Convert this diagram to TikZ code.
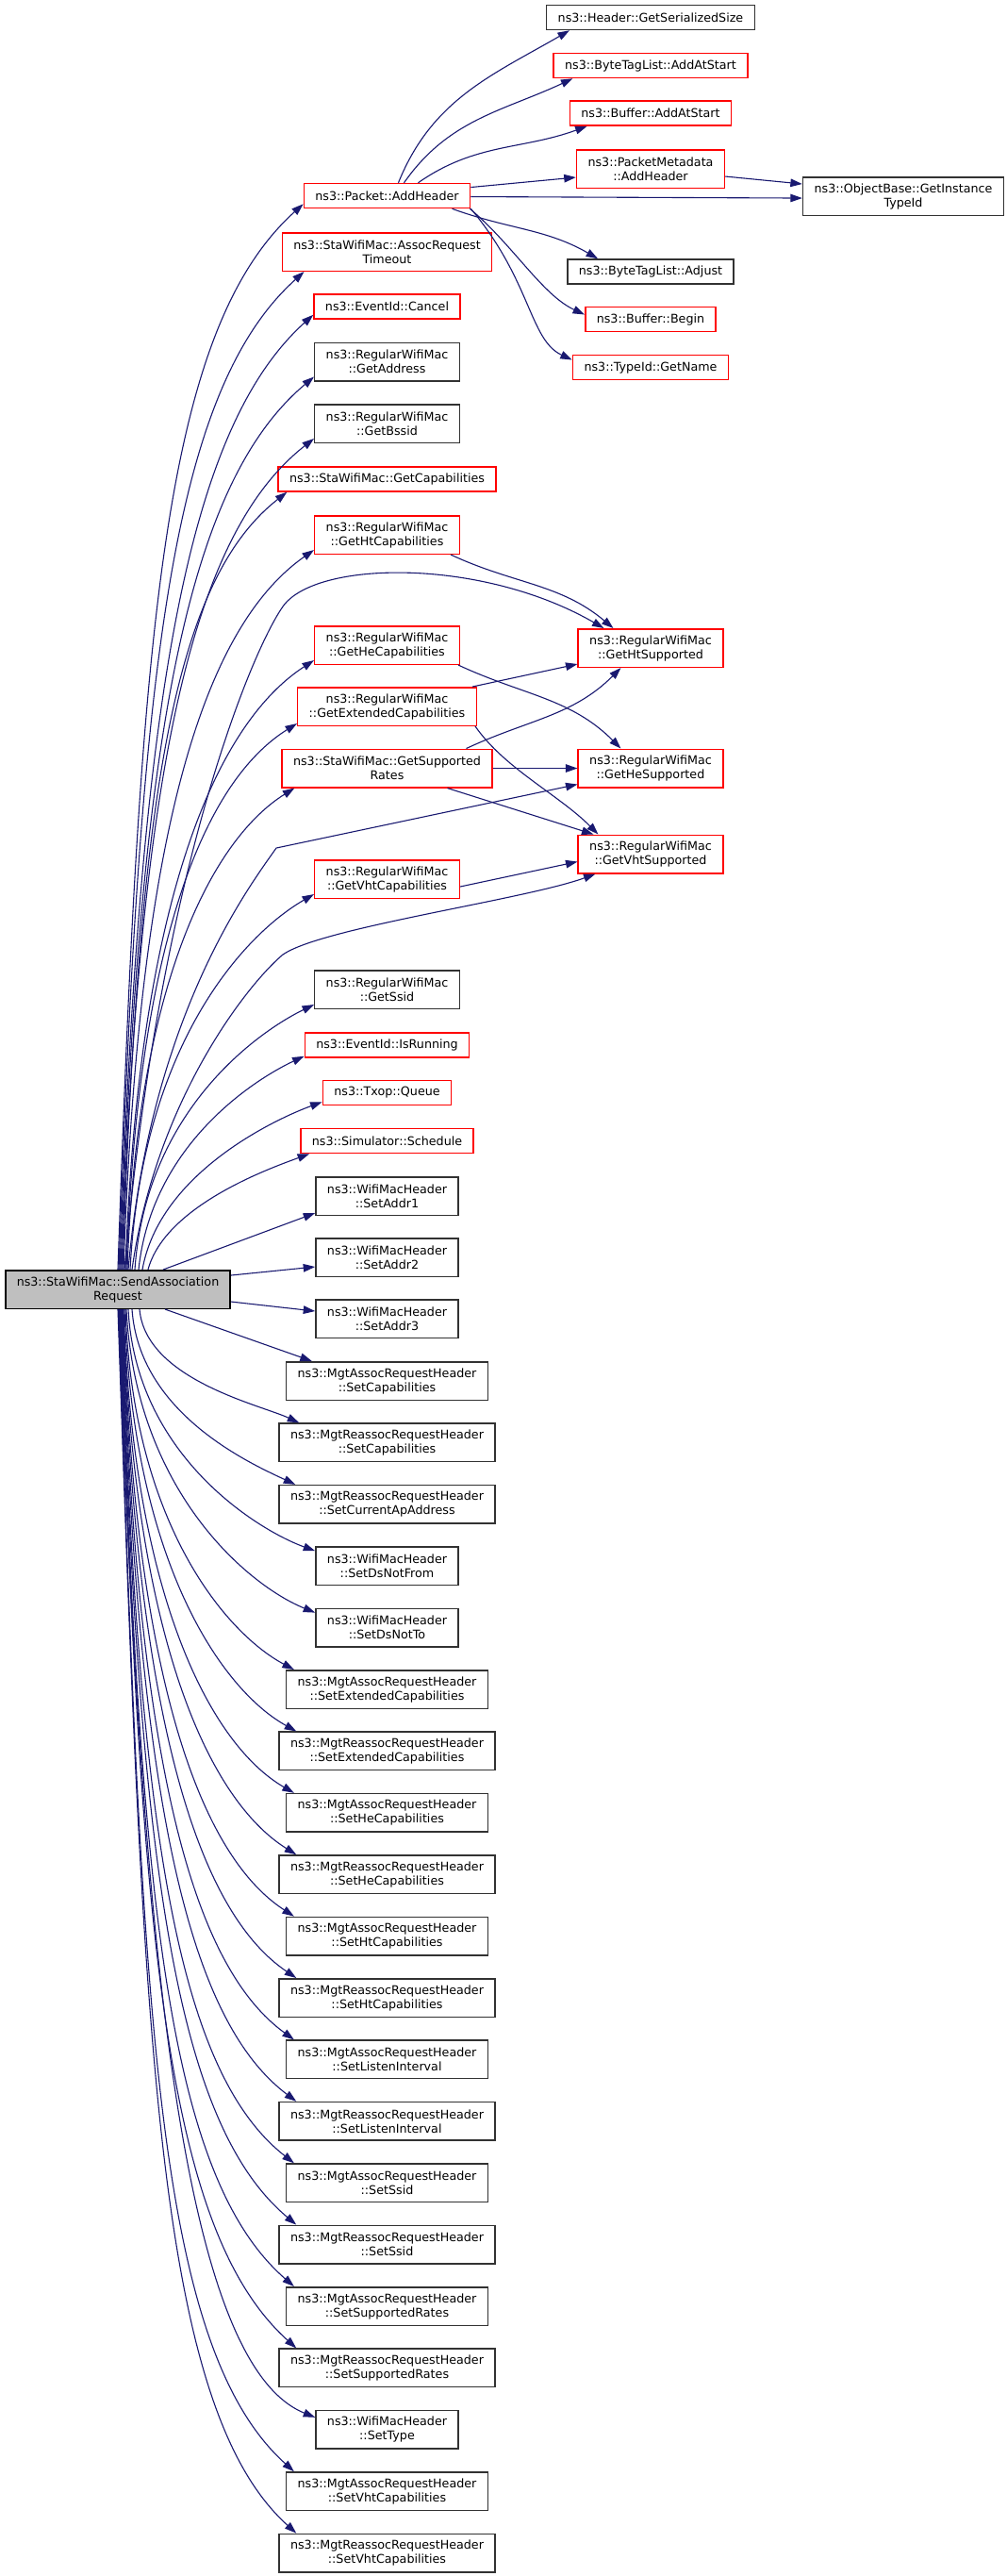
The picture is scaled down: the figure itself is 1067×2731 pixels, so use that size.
\documentclass[tikz,border=0pt]{standalone}
\usepackage{fontspec}
\setmainfont{DejaVu Sans}
\usepackage{tikz}
\usetikzlibrary{arrows.meta,positioning}
\definecolor{doxyblue}{RGB}{25,25,112}
\definecolor{doxyred}{RGB}{255,0,0}
\definecolor{doxygray}{RGB}{50,50,50}
\definecolor{doxyfill}{RGB}{191,191,191}

\begin{document}
\begin{tikzpicture}[x=0.1pt,y=0.1pt,
    fn/.style={draw=doxygray, line width=0.15pt, fill=white, align=center,
      inner xsep=1.2pt, inner ysep=0.2pt, minimum height=2.6pt,
      font=\fontsize{1.27}{1.5}\selectfont},
    fnred/.style={fn, draw=doxyred},
    twoline/.style={minimum height=4.05pt},
    call/.style={draw=doxyblue, line width=0.11pt, -{Triangle[length=1.25pt,width=0.85pt]}}]
  \useasboundingbox (0,0) rectangle (1067,-2731);

  % Nodo principale
  \node[fn, twoline, draw=black, fill=doxyfill] (send) at (125,-1367) {ns3::StaWifiMac::SendAssociation\\Request};

  % Colonna centrale
  \node[fnred] (addhdr) at (410.5,-207.5) {ns3::Packet::AddHeader};
  \node[fnred, twoline] (assocto) at (410.5,-267) {ns3::StaWifiMac::AssocRequest\\Timeout};
  \node[fnred] (evcancel) at (410.5,-325) {ns3::EventId::Cancel};
  \node[fn, twoline] (getaddr) at (410.5,-383.5) {ns3::RegularWifiMac\\::GetAddress};
  \node[fn, twoline] (getbssid) at (410.5,-449) {ns3::RegularWifiMac\\::GetBssid};
  \node[fnred] (getcaps) at (410.5,-508) {ns3::StaWifiMac::GetCapabilities};
  \node[fnred, twoline] (gethtcaps) at (410.5,-567) {ns3::RegularWifiMac\\::GetHtCapabilities};
  \node[fnred, twoline] (gethecaps) at (410.5,-684) {ns3::RegularWifiMac\\::GetHeCapabilities};
  \node[fnred, twoline] (getextcaps) at (410.5,-749) {ns3::RegularWifiMac\\::GetExtendedCapabilities};
  \node[fnred, twoline] (getrates) at (410.5,-814.5) {ns3::StaWifiMac::GetSupported\\Rates};
  \node[fnred, twoline] (getvhtcaps) at (410.5,-932) {ns3::RegularWifiMac\\::GetVhtCapabilities};
  \node[fn, twoline] (getssid) at (410.5,-1049) {ns3::RegularWifiMac\\::GetSsid};
  \node[fnred] (isrun) at (410.5,-1108) {ns3::EventId::IsRunning};
  \node[fnred] (txopq) at (410.5,-1158.5) {ns3::Txop::Queue};
  \node[fnred] (sched) at (410.5,-1209.5) {ns3::Simulator::Schedule};
  \node[fn, twoline] (addr1) at (410.5,-1268) {ns3::WifiMacHeader\\::SetAddr1};
  \node[fn, twoline] (addr2) at (410.5,-1333) {ns3::WifiMacHeader\\::SetAddr2};
  \node[fn, twoline] (addr3) at (410.5,-1398) {ns3::WifiMacHeader\\::SetAddr3};
  \node[fn, twoline] (aSetCaps) at (410.5,-1464) {ns3::MgtAssocRequestHeader\\::SetCapabilities};
  \node[fn, twoline] (rSetCaps) at (410.5,-1529.4) {ns3::MgtReassocRequestHeader\\::SetCapabilities};
  \node[fn, twoline] (rSetApAddr) at (410.5,-1594.8) {ns3::MgtReassocRequestHeader\\::SetCurrentApAddress};
  \node[fn, twoline] (dsNotFrom) at (410.5,-1660.2) {ns3::WifiMacHeader\\::SetDsNotFrom};
  \node[fn, twoline] (dsNotTo) at (410.5,-1725.6) {ns3::WifiMacHeader\\::SetDsNotTo};
  \node[fn, twoline] (aSetExt) at (410.5,-1791) {ns3::MgtAssocRequestHeader\\::SetExtendedCapabilities};
  \node[fn, twoline] (rSetExt) at (410.5,-1856.4) {ns3::MgtReassocRequestHeader\\::SetExtendedCapabilities};
  \node[fn, twoline] (aSetHe) at (410.5,-1921.8) {ns3::MgtAssocRequestHeader\\::SetHeCapabilities};
  \node[fn, twoline] (rSetHe) at (410.5,-1987.2) {ns3::MgtReassocRequestHeader\\::SetHeCapabilities};
  \node[fn, twoline] (aSetHt) at (410.5,-2052.6) {ns3::MgtAssocRequestHeader\\::SetHtCapabilities};
  \node[fn, twoline] (rSetHt) at (410.5,-2118) {ns3::MgtReassocRequestHeader\\::SetHtCapabilities};
  \node[fn, twoline] (aSetListen) at (410.5,-2183.4) {ns3::MgtAssocRequestHeader\\::SetListenInterval};
  \node[fn, twoline] (rSetListen) at (410.5,-2248.8) {ns3::MgtReassocRequestHeader\\::SetListenInterval};
  \node[fn, twoline] (aSetSsid) at (410.5,-2314.2) {ns3::MgtAssocRequestHeader\\::SetSsid};
  \node[fn, twoline] (rSetSsid) at (410.5,-2379.6) {ns3::MgtReassocRequestHeader\\::SetSsid};
  \node[fn, twoline] (aSetRates) at (410.5,-2445) {ns3::MgtAssocRequestHeader\\::SetSupportedRates};
  \node[fn, twoline] (rSetRates) at (410.5,-2510.4) {ns3::MgtReassocRequestHeader\\::SetSupportedRates};
  \node[fn, twoline] (setType) at (410.5,-2575.8) {ns3::WifiMacHeader\\::SetType};
  \node[fn, twoline] (aSetVht) at (410.5,-2641.2) {ns3::MgtAssocRequestHeader\\::SetVhtCapabilities};
  \node[fn, twoline] (rSetVht) at (410.5,-2706.6) {ns3::MgtReassocRequestHeader\\::SetVhtCapabilities};

  % Colonna destra
  \node[fn] (hdrsize) at (690,-18.5) {ns3::Header::GetSerializedSize};
  \node[fnred] (btlstart) at (690,-69.5) {ns3::ByteTagList::AddAtStart};
  \node[fnred] (bufstart) at (690,-120) {ns3::Buffer::AddAtStart};
  \node[fnred, twoline] (pmeta) at (690,-179) {ns3::PacketMetadata\\::AddHeader};
  \node[fn] (btladjust) at (690,-288) {ns3::ByteTagList::Adjust};
  \node[fnred] (bufbegin) at (690,-338.5) {ns3::Buffer::Begin};
  \node[fnred] (tidname) at (690,-389.5) {ns3::TypeId::GetName};
  \node[fnred, twoline] (htsup) at (690,-687) {ns3::RegularWifiMac\\::GetHtSupported};
  \node[fnred, twoline] (hesup) at (690,-814.5) {ns3::RegularWifiMac\\::GetHeSupported};
  \node[fnred, twoline] (vhtsup) at (690,-905.5) {ns3::RegularWifiMac\\::GetVhtSupported};
  \node[fn, twoline] (objbase) at (958,-208) {ns3::ObjectBase::GetInstance\\TypeId};

  % Punti di passaggio
  \coordinate (bendht) at (300,-643);
  \coordinate (bendhe) at (293,-899);
  \coordinate (bendvht) at (300,-1012);

  % Chiamate di Packet::AddHeader
  \draw[call] ([xshift=1.2pt]addhdr.north) to[out=68,in=210] ([xshift=2.5pt]hdrsize.south west);
  \draw[call] ([xshift=1.8pt]addhdr.north) to[out=55,in=205] ([xshift=2.1pt]btlstart.south west);
  \draw[call] ([xshift=3.3pt]addhdr.north) to[out=35,in=200] ([xshift=1.9pt]bufstart.south west);
  \draw[call] ([yshift=0.9pt]addhdr.east) -- ([yshift=-0.9pt]pmeta.west);
  \draw[call] ([yshift=-0.8pt]pmeta.east) -- ([yshift=1.3pt]objbase.west);
  \draw[call] ([yshift=-0.1pt]addhdr.east) -- ([yshift=-0.2pt]objbase.west);
  \draw[call] ([xshift=6.9pt]addhdr.south) to[out=-20,in=150] ([xshift=3.3pt]btladjust.north west);
  \draw[call] ([xshift=-0.1pt]addhdr.south east) to[out=-40,in=155,out distance=6pt,in distance=5pt] ([yshift=0.5pt]bufbegin.west);
  \draw[call] (addhdr.south east) to[out=-50,in=155,out distance=10pt,in distance=5pt] ([yshift=0.8pt]tidname.west);

  % Chiamate verso i Get...Supported
  \draw[call] ([xshift=-1pt]gethtcaps.south east) to[out=-25,in=140] ([xshift=3.8pt]htsup.north west);
  \draw[call] ([xshift=-0.2pt]gethecaps.south east) to[out=-25,in=135] ([xshift=4.6pt]hesup.north west);
  \draw[call] ([xshift=-0.5pt]getextcaps.north east) -- ([yshift=0.4pt]htsup.south west);
  \draw[call] ([xshift=-0.2pt]getextcaps.south east) to[out=-55,in=135,out distance=5.5pt,in distance=6pt] ([xshift=2.2pt]vhtsup.north west);
  \draw[call] ([xshift=8.4pt]getrates.north) to[out=25,in=225] ([xshift=4.6pt]htsup.south west);
  \draw[call] (getrates.east) -- (hesup.west);
  \draw[call] ([xshift=6.4pt]getrates.south) -- ([xshift=1.7pt]vhtsup.north west);
  \draw[call] ([yshift=-0.8pt]getvhtcaps.east) -- ([yshift=-0.8pt]vhtsup.west);

  % Chiamate di SendAssociationRequest (verso l'alto)
  \draw[call] (send.north) to[out=88,in=222,out distance=68pt,in distance=20pt] ([yshift=0.5pt]addhdr.south west);
  \draw[call] ([xshift=0.1pt]send.north) to[out=88,in=222,out distance=63.6pt,in distance=19pt] ([xshift=2.4pt]assocto.south west);
  \draw[call] ([xshift=0.2pt]send.north) to[out=88,in=222,out distance=60.8pt,in distance=18pt] ([yshift=0.5pt]evcancel.south west);
  \draw[call] ([xshift=0.3pt]send.north) to[out=88,in=220,out distance=57pt,in distance=17.5pt] ([yshift=0.5pt]getaddr.south west);
  \draw[call] ([xshift=0.4pt]send.north) to[out=88,in=218,out distance=53pt,in distance=16.5pt] ([yshift=0.5pt]getbssid.south west);
  \draw[call] ([xshift=0.5pt]send.north) to[out=88,in=218,out distance=49.5pt,in distance=15.5pt] ([xshift=1pt]getcaps.south west);
  \draw[call] ([xshift=0.6pt]send.north) to[out=88,in=215,out distance=46pt,in distance=14.5pt] ([yshift=0.5pt]gethtcaps.south west);
  \draw[call] ([xshift=0.7pt]send.north) to[out=85,in=235,out distance=42pt,in distance=6pt] (bendht)
    to[out=55,in=150,out distance=6pt,in distance=15pt] ([xshift=2.8pt]htsup.north west);
  \draw[call] ([xshift=0.8pt]send.north) to[out=88,in=213,out distance=39pt,in distance=12.5pt] ([yshift=0.5pt]gethecaps.south west);
  \draw[call] ([xshift=0.9pt]send.north) to[out=88,in=212,out distance=35pt,in distance=11.5pt] ([yshift=0.3pt]getextcaps.south west);
  \draw[call] ([xshift=1pt]send.north) to[out=88,in=212,out distance=31pt,in distance=10pt] ([xshift=1.4pt]getrates.south west);
  \draw[call] ([xshift=1.1pt]send.north) to[out=85,in=235,out distance=27pt,in distance=5pt] (bendhe)
    -- ([yshift=0.4pt]hesup.south west);
  \draw[call] ([xshift=1.3pt]send.north) to[out=87,in=210,out distance=24pt,in distance=8.5pt] ([yshift=0.5pt]getvhtcaps.south west);
  \draw[call] ([xshift=1.5pt]send.north) to[out=82,in=220,out distance=18pt,in distance=5pt] (bendvht)
    to[out=35,in=200,out distance=5pt,in distance=8pt] ([xshift=1.9pt]vhtsup.south west);
  \draw[call] ([xshift=1.8pt]send.north) to[out=86,in=206,out distance=17pt,in distance=6.5pt] ([yshift=0.5pt]getssid.south west);
  \draw[call] ([xshift=2.2pt]send.north) to[out=84,in=205,out distance=13.5pt,in distance=5.5pt] ([yshift=0.2pt]isrun.south west);
  \draw[call] ([xshift=2.6pt]send.north) to[out=80,in=200,out distance=10.5pt,in distance=5pt] ([yshift=0.4pt]txopq.south west);
  \draw[call] ([xshift=3.2pt]send.north) to[out=75,in=200,out distance=7pt,in distance=4.5pt] ([xshift=1pt]sched.south west);
  \draw[call] ([xshift=4.8pt]send.north) -- ([yshift=0.3pt]addr1.south west);

  % Chiamate di SendAssociationRequest (a destra)
  \draw[call] ([yshift=1.5pt]send.east) -- ([yshift=-1pt]addr2.west);
  \draw[call] ([yshift=-1.3pt]send.east) -- ([yshift=0.8pt]addr3.west);

  % Chiamate di SendAssociationRequest (verso il basso)
  \draw[call] ([xshift=5pt]send.south) -- ([xshift=2.8pt]aSetCaps.north west);
  \draw[call] ([xshift=2.3pt]send.south) to[out=-85,in=155,out distance=7.5pt,in distance=4.5pt] ([xshift=2.2pt]rSetCaps.north west);
  \draw[call] ([xshift=1.5pt]send.south) to[out=-86,in=155,out distance=11pt,in distance=5.5pt] ([xshift=1.8pt]rSetApAddr.north west);
  \draw[call] ([xshift=1.1pt]send.south) to[out=-87,in=160,out distance=15.5pt,in distance=6.5pt] ([yshift=-0.5pt]dsNotFrom.north west);
  \draw[call] ([xshift=0.9pt]send.south) to[out=-87,in=158,out distance=19.5pt,in distance=7.5pt] ([yshift=-0.5pt]dsNotTo.north west);
  \draw[call] ([xshift=0.8pt]send.south) to[out=-88,in=152,out distance=23pt,in distance=8pt] ([xshift=0.9pt]aSetExt.north west);
  \draw[call] ([xshift=0.7pt]send.south) to[out=-88,in=151,out distance=27pt,in distance=9pt] ([xshift=1.9pt]rSetExt.north west);
  \draw[call] ([xshift=0.6pt]send.south) to[out=-88,in=150,out distance=31pt,in distance=10pt] ([xshift=0.9pt]aSetHe.north west);
  \draw[call] ([xshift=0.55pt]send.south) to[out=-88,in=148,out distance=35pt,in distance=11pt] ([xshift=1.9pt]rSetHe.north west);
  \draw[call] ([xshift=0.5pt]send.south) to[out=-88,in=147,out distance=39pt,in distance=12pt] ([xshift=0.9pt]aSetHt.north west);
  \draw[call] ([xshift=0.45pt]send.south) to[out=-88,in=146,out distance=42.5pt,in distance=13pt] ([xshift=1.9pt]rSetHt.north west);
  \draw[call] ([xshift=0.4pt]send.south) to[out=-88,in=144,out distance=46.5pt,in distance=14pt] ([xshift=0.9pt]aSetListen.north west);
  \draw[call] ([xshift=0.35pt]send.south) to[out=-88,in=143,out distance=50.5pt,in distance=15pt] ([xshift=1.9pt]rSetListen.north west);
  \draw[call] ([xshift=0.3pt]send.south) to[out=-88,in=142,out distance=54.5pt,in distance=16pt] ([xshift=0.9pt]aSetSsid.north west);
  \draw[call] ([xshift=0.25pt]send.south) to[out=-88,in=140,out distance=58.5pt,in distance=17pt] ([xshift=1.9pt]rSetSsid.north west);
  \draw[call] ([xshift=0.2pt]send.south) to[out=-88,in=139,out distance=62pt,in distance=18pt] ([xshift=0.9pt]aSetRates.north west);
  \draw[call] ([xshift=0.15pt]send.south) to[out=-88,in=138,out distance=66pt,in distance=19pt] ([xshift=1.9pt]rSetRates.north west);
  \draw[call] ([xshift=0.1pt]send.south) to[out=-88,in=158,out distance=70pt,in distance=15pt] ([yshift=-0.8pt]setType.north west);
  \draw[call] ([xshift=0.05pt]send.south) to[out=-88,in=138,out distance=74pt,in distance=20pt] ([xshift=0.9pt]aSetVht.north west);
  \draw[call] (send.south) to[out=-88,in=138,out distance=78pt,in distance=20pt] ([xshift=1.9pt]rSetVht.north west);
\end{tikzpicture}
\end{document}
